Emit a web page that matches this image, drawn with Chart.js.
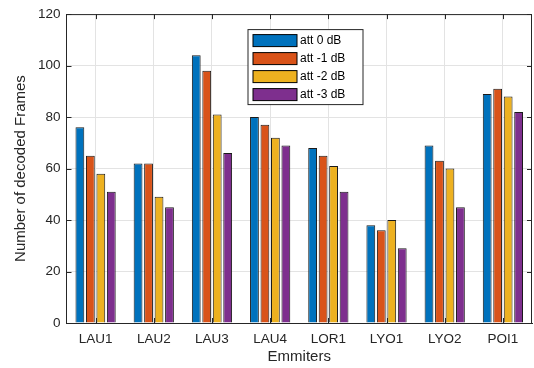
<!DOCTYPE html>
<html>
<head>
<meta charset="utf-8">
<script src="https://cdn.jsdelivr.net/npm/chart.js@4.4.1/dist/chart.umd.min.js"></script>
<style>
  html, body { margin: 0; padding: 0; background: #fff; }
  #wrap { width: 534px; height: 368px; }
</style>
</head>
<body>
<div id="wrap"><canvas id="barChart"></canvas></div>
<script>
// ==========================================
// DATA
// ==========================================

const emitters = ["LAU1", "LAU2", "LAU3", "LAU4", "LOR1", "LYO1", "LYO2", "POI1"];

const att0 = [76, 62, 104, 80, 68, 38, 69, 89];
const att1 = [65, 62, 98, 77, 65, 36, 63, 91];
const att2 = [58, 49, 81, 72, 61, 40, 60, 88];
const att3 = [51, 45, 66, 69, 51, 29, 45, 82];

const seriesNames = ["att 0 dB", "att -1 dB", "att -2 dB", "att -3 dB"];
const seriesColors = ["#0072BD", "#D95319", "#EDB120", "#7E2F8E"];

const yTicks = [0, 20, 40, 60, 80, 100, 120];

const FONT = "'Liberation Sans', Arial, Helvetica, sans-serif";
const AXIS_COLOR = "#262626";

// ==========================================
// MATLAB style box, inward ticks and legend
// ==========================================

const matlabBox = {
    id: "matlabBox",
    afterDatasetsDraw(chart) {
        const ctx = chart.ctx;
        const a = chart.chartArea;
        const xs = chart.scales.x;
        const ys = chart.scales.y;
        const len = 5;

        ctx.save();
        ctx.strokeStyle = AXIS_COLOR;
        ctx.lineWidth = 1;
        ctx.beginPath();

        // top + right frame
        ctx.moveTo(a.left, a.top + 0.5);
        ctx.lineTo(a.right, a.top + 0.5);
        ctx.moveTo(a.right - 0.5, a.top);
        ctx.lineTo(a.right - 0.5, a.bottom);

        // x ticks (bottom + top)
        emitters.forEach((_, i) => {
            const px = Math.round(xs.getPixelForValue(i)) + 0.5;
            ctx.moveTo(px, a.bottom);
            ctx.lineTo(px, a.bottom - len);
            ctx.moveTo(px, a.top);
            ctx.lineTo(px, a.top + len);
        });

        // y ticks (left + right)
        yTicks.forEach(v => {
            const py = Math.round(ys.getPixelForValue(v)) + 0.5;
            ctx.moveTo(a.left, py);
            ctx.lineTo(a.left + len, py);
            ctx.moveTo(a.right, py);
            ctx.lineTo(a.right - len, py);
        });

        ctx.stroke();
        ctx.restore();
    },
    afterDraw(chart) {
        const ctx = chart.ctx;
        const a = chart.chartArea;
        const boxX = a.left + 181.5;
        const boxY = a.top + 15.5;
        const boxW = 115;
        const boxH = 75;
        const rowH = 18;

        ctx.save();
        ctx.fillStyle = "#ffffff";
        ctx.fillRect(boxX, boxY, boxW, boxH);
        ctx.strokeStyle = AXIS_COLOR;
        ctx.lineWidth = 1;
        ctx.strokeRect(boxX, boxY, boxW, boxH);

        ctx.font = "12px " + FONT;
        ctx.textBaseline = "middle";
        ctx.textAlign = "left";

        chart.data.datasets.forEach((ds, i) => {
            const cy = boxY + 11 + i * rowH;
            ctx.fillStyle = ds.backgroundColor;
            ctx.fillRect(boxX + 5, cy - 6, 44, 12);
            ctx.strokeStyle = "#000";
            ctx.strokeRect(boxX + 5, cy - 6, 44, 12);
            ctx.fillStyle = "#000";
            ctx.fillText(ds.label, boxX + 52, cy + 0.5);
        });
        ctx.restore();
    }
};

// ==========================================
// GROUPED BAR CHART
// ==========================================

const barChart = document.getElementById("barChart");

if(barChart){

new Chart(barChart, {

    type: "bar",

    data: {

        labels: emitters,

        datasets: [att0, att1, att2, att3].map((vals, i) => ({
            label: seriesNames[i],
            data: vals,
            backgroundColor: seriesColors[i],
            borderColor: "#1a1a1a",
            borderWidth: 1,
            categoryPercentage: 0.72,
            barPercentage: 0.84
        }))

    },

    plugins: [matlabBox],

    options: {

        responsive: true,

        maintainAspectRatio: false,

        animation: false,

        layout: {
            padding: { left: 0, top: 7, right: 2, bottom: 0 }
        },

        plugins: {
            legend: { display: false },
            tooltip: { enabled: false }
        },

        scales: {

            x: {
                grid: {
                    offset: false,
                    color: "#e3e3e3",
                    drawTicks: false
                },
                border: { color: AXIS_COLOR, width: 1 },
                ticks: {
                    color: AXIS_COLOR,
                    padding: 8,
                    font: { family: FONT, size: 13.5 }
                },
                title: {
                    display: true,
                    text: "Emmiters",
                    color: AXIS_COLOR,
                    padding: { top: 0, bottom: 2 },
                    font: { family: FONT, size: 15 }
                },
                afterFit(scale) { scale.height = 45; }
            },

            y: {
                min: 0,
                max: 120,
                grid: {
                    color: "#e3e3e3",
                    drawTicks: false
                },
                border: { color: AXIS_COLOR, width: 1 },
                afterBuildTicks(scale) {
                    scale.ticks = yTicks.map(v => ({ value: v }));
                },
                ticks: {
                    color: AXIS_COLOR,
                    padding: 6,
                    font: { family: FONT, size: 13.5 }
                },
                title: {
                    display: true,
                    text: "Number of decoded Frames",
                    color: AXIS_COLOR,
                    padding: { top: 12, bottom: 0 },
                    font: { family: FONT, size: 15 }
                },
                afterFit(scale) { scale.width = 66.5; }
            }

        }

    }

});

}
</script>
</body>
</html>
